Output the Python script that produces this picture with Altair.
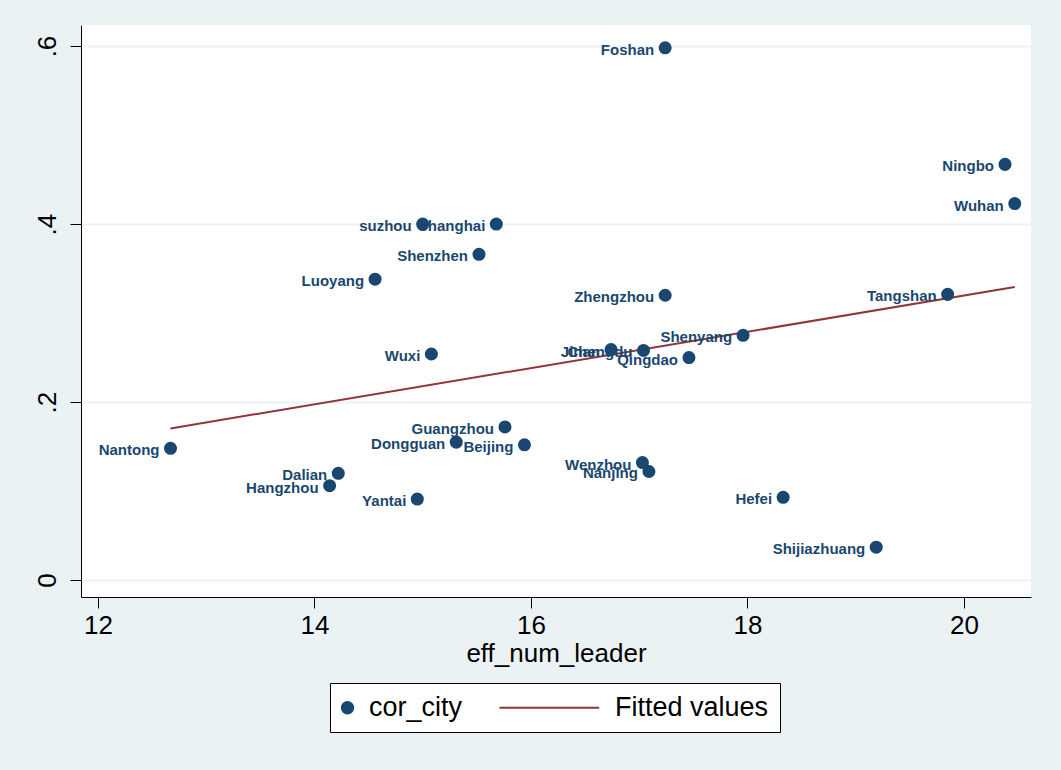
import altair as alt
import pandas as pd

cities = ["Foshan", "Ningbo", "Wuhan", "suzhou", "Shanghai", "Shenzhen", "Luoyang",
          "Zhengzhou", "Tangshan", "Shenyang", "Wuxi", "Jinan", "Chengdu", "Qingdao",
          "Guangzhou", "Dongguan", "Beijing", "Nantong", "Wenzhou", "Nanjing", "Dalian",
          "Hangzhou", "Yantai", "Hefei", "Shijiazhuang"]
eff_num_leader = [17.24, 20.38, 20.47, 15.00, 15.68, 15.52, 14.56,
                  17.24, 19.85, 17.96, 15.08, 16.74, 17.04, 17.46,
                  15.76, 15.31, 15.94, 12.67, 17.03, 17.09, 14.22,
                  14.14, 14.95, 18.33, 19.19]
cor_city = [0.598, 0.467, 0.423, 0.400, 0.400, 0.366, 0.338,
            0.320, 0.321, 0.275, 0.254, 0.259, 0.258, 0.250,
            0.172, 0.155, 0.152, 0.148, 0.132, 0.122, 0.120,
            0.106, 0.091, 0.093, 0.037]

series_names = ["cor_city", "Fitted values"]
series_colors = ["#1a476f", "#90353b"]
x_ticks = [12, 14, 16, 18, 20]
y_ticks = [0, 0.2, 0.4, 0.6]

df = pd.DataFrame({"city": cities, "eff_num_leader": eff_num_leader, "cor_city": cor_city})

FONT = "Liberation Sans"

xscale = alt.Scale(domain=[11.843, 20.62], nice=False, zero=False)
yscale = alt.Scale(domain=[-0.019, 0.6236], nice=False, zero=False)

legend = alt.Legend(
    title=None, orient="none", legendX=249, legendY=658, direction="horizontal",
    fillColor="white", strokeColor="black", padding=11,
    labelFont=FONT, labelFontSize=27, labelColor="black", labelOffset=8,
    symbolOffset=-7, columnPadding=32, symbolSize=130, symbolStrokeWidth=2, symbolOpacity=1,
)

color = alt.Color("series:N", scale=alt.Scale(domain=series_names, range=series_colors), legend=legend)
shape = alt.Shape("series:N", scale=alt.Scale(domain=series_names, range=["circle", "M-16.5,0H1"]), legend=legend)

x = alt.X("eff_num_leader:Q", scale=xscale, title="eff_num_leader",
          axis=alt.Axis(values=x_ticks, grid=False, tickSize=11, labelPadding=4,
                        titlePadding=2))
y = alt.Y("cor_city:Q", scale=yscale, title=None,
          axis=alt.Axis(values=y_ticks, grid=True, tickSize=11, labelAngle=270, labelPadding=10,
                        labelExpr="datum.value == 0 ? '0' : replace(format(datum.value, '.1f'), '0.', '.')"))

base = alt.Chart(df)

points = base.transform_calculate(series="'cor_city'").mark_point(
    filled=True, size=170, opacity=1
).encode(x=x, y=y, color=color, shape=shape)

labels = base.mark_text(
    align="right", baseline="middle", dx=-11, dy=2, font=FONT, fontSize=15, fontWeight="bold",
    color="#1a476f"
).encode(x=x, y=y, text="city:N")

fit = base.transform_regression("eff_num_leader", "cor_city").transform_calculate(
    series="'Fitted values'"
).mark_line(strokeWidth=2).encode(x=x, y=y, color=color)

chart = alt.layer(fit, points, labels).properties(
    width=950, height=572,
    autosize=alt.AutoSizeParams(type="none"),
    padding={"left": 81, "top": 25, "right": 30, "bottom": 173},
    background="#eaf2f3",
).configure_view(
    fill="white", stroke=None, strokeWidth=0
).configure_axis(
    labelFont=FONT, labelFontSize=26, labelColor="black",
    titleFont=FONT, titleFontSize=26, titleFontWeight="normal", titleColor="black",
    domainColor="black", domainWidth=1, tickColor="black", tickWidth=1,
    gridColor="#eaf2f3", gridWidth=2,
)

chart.save("out.html", embed_options={"renderer": "svg", "actions": False})
